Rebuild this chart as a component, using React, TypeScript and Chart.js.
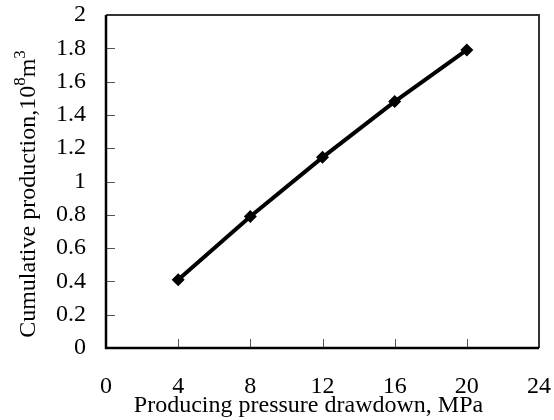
import React, { useEffect, useRef } from "react";
import { Chart, registerables } from "chart.js";

Chart.register(...registerables);

const drawdownMPa = [4, 8, 12, 16, 20];
const cumulativeProduction = [0.41, 0.79, 1.145, 1.48, 1.79];
const xTickValues = [0, 4, 8, 12, 16, 20, 24];
const yTickValues = [0, 0.2, 0.4, 0.6, 0.8, 1, 1.2, 1.4, 1.6, 1.8, 2];
const xTitle = "Producing pressure drawdown, MPa";
const yTitleMain = "Cumulative production,10";
const yTitleSup1 = "8";
const yTitleUnit = "m";
const yTitleSup2 = "3";

const FONT = "'Liberation Serif', 'Times New Roman', serif";

const framePlugin = {
  id: "frame",
  afterDraw(chart: any) {
    const { ctx, chartArea } = chart;
    const { left, right, top, bottom } = chartArea;
    const xs = chart.scales.x;
    const ys = chart.scales.y;
    ctx.save();
    ctx.strokeStyle = "#555";
    ctx.lineWidth = 1;
    ctx.beginPath();
    xTickValues.forEach((v) => {
      if (v === 0 || v === 24) return;
      const px = Math.round(xs.getPixelForValue(v)) + 0.5;
      ctx.moveTo(px, bottom);
      ctx.lineTo(px, bottom - 9);
    });
    yTickValues.forEach((v) => {
      if (v === 0 || v === 2) return;
      const py = Math.round(ys.getPixelForValue(v)) + 0.5;
      ctx.moveTo(left, py);
      ctx.lineTo(left + 9, py);
    });
    ctx.stroke();
    ctx.lineWidth = 2;
    ctx.strokeStyle = "#333";
    ctx.beginPath();
    ctx.moveTo(left, top);
    ctx.lineTo(right, top);
    ctx.lineTo(right, bottom);
    ctx.stroke();
    ctx.lineWidth = 2.5;
    ctx.strokeStyle = "#000";
    ctx.beginPath();
    ctx.moveTo(left, top);
    ctx.lineTo(left, bottom);
    ctx.lineTo(right, bottom);
    ctx.stroke();

    ctx.fillStyle = "#000";
    ctx.font = `24px ${FONT}`;
    ctx.textAlign = "center";
    ctx.textBaseline = "alphabetic";
    ctx.fillText(xTitle, 308.5, 412);

    const big = `24px ${FONT}`;
    const small = `17px ${FONT}`;
    ctx.textAlign = "left";
    ctx.font = big;
    const w1 = ctx.measureText(yTitleMain).width;
    const w3 = ctx.measureText(yTitleUnit).width;
    ctx.font = small;
    const w2 = ctx.measureText(yTitleSup1).width;
    const w4 = ctx.measureText(yTitleSup2).width;
    const total = w1 + w2 + w3 + w4;
    ctx.translate(35, 194 + total / 2);
    ctx.rotate(-Math.PI / 2);
    let x = 0;
    ctx.font = big;
    ctx.fillText(yTitleMain, x, 0);
    x += w1;
    ctx.font = small;
    ctx.fillText(yTitleSup1, x, -10);
    x += w2;
    ctx.font = big;
    ctx.fillText(yTitleUnit, x, 0);
    x += w3;
    ctx.font = small;
    ctx.fillText(yTitleSup2, x, -10);
    ctx.restore();
  },
};

const zeroPad = (s: any) => {
  s.paddingTop = 0;
  s.paddingBottom = 0;
  s.paddingLeft = 0;
  s.paddingRight = 0;
};

export default function App() {
  const ref = useRef<HTMLCanvasElement>(null);
  useEffect(() => {
    document.body.style.margin = "0";
    const canvas = ref.current!;
    const chart = new Chart(canvas, {
      type: "line",
      data: {
        datasets: [
          {
            data: drawdownMPa.map((x, i) => ({ x, y: cumulativeProduction[i] })),
            borderColor: "#000",
            backgroundColor: "#000",
            borderWidth: 4,
            pointStyle: "rectRot",
            pointRadius: 6.5,
            pointBorderWidth: 0,
            pointBackgroundColor: "#000",
            tension: 0,
          },
        ],
      },
      options: {
        responsive: false,
        animation: false,
        devicePixelRatio: 1,
        layout: { padding: { left: 0, top: 15, right: 15, bottom: 0 } },
        plugins: { legend: { display: false }, tooltip: { enabled: false } },
        scales: {
          x: {
            type: "linear",
            min: 0,
            max: 24,
            afterBuildTicks: (s: any) => {
              s.ticks = xTickValues.map((v) => ({ value: v }));
            },
            afterFit: (s: any) => {
              s.height = 72;
              zeroPad(s);
            },
            grid: { display: false, drawTicks: false },
            border: { display: false },
            ticks: {
              color: "#000",
              font: { family: FONT, size: 24 },
              padding: 24,
              maxRotation: 0,
              autoSkip: false,
              callback: (v: any) => String(v),
            },
          },
          y: {
            type: "linear",
            min: 0,
            max: 2,
            afterBuildTicks: (s: any) => {
              s.ticks = yTickValues.map((v) => ({ value: v }));
            },
            afterFit: (s: any) => {
              s.width = 106;
              zeroPad(s);
            },
            grid: { display: false, drawTicks: false },
            border: { display: false },
            ticks: {
              color: "#000",
              font: { family: FONT, size: 24 },
              padding: 20,
              autoSkip: false,
              callback: (v: any) => String(v),
            },
          },
        },
      },
      plugins: [framePlugin],
    } as any);
    return () => chart.destroy();
  }, []);
  return (
    <canvas
      ref={ref}
      width={554}
      height={420}
      style={{ display: "block", width: 554, height: 420 }}
    />
  );
}
